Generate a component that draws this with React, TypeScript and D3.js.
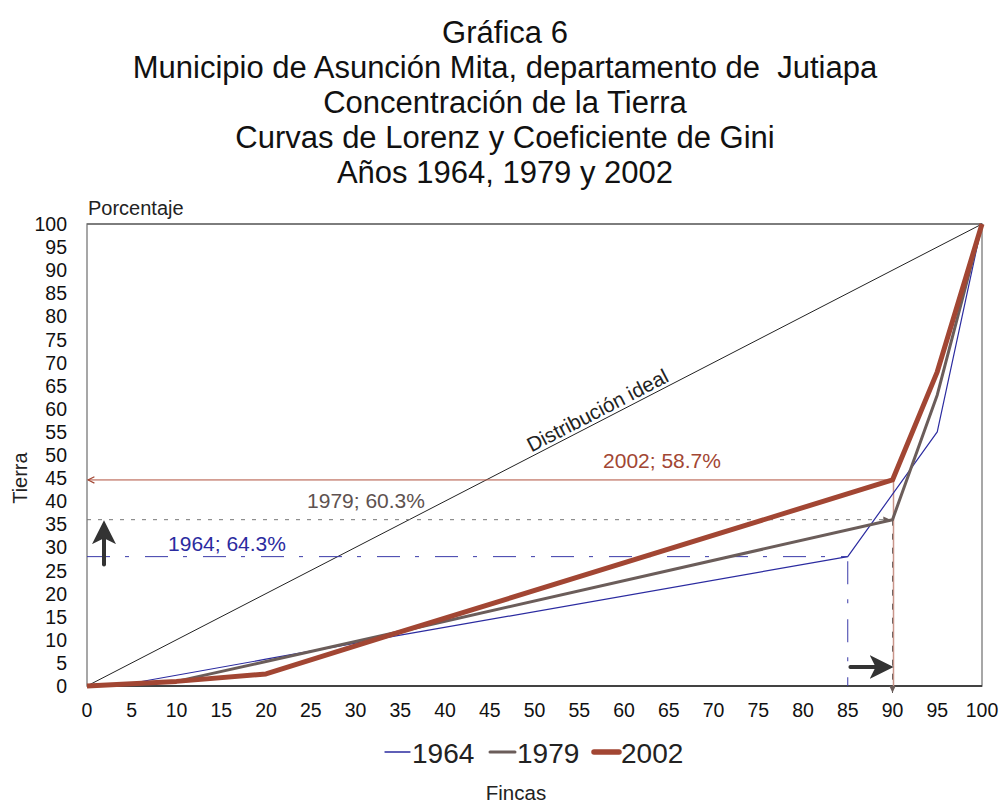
import React from "react";
import * as d3 from "d3";

const titleLines = [
  "Gráfica 6",
  "Municipio de Asunción Mita, departamento de  Jutiapa",
  "Concentración de la Tierra",
  "Curvas de Lorenz y Coeficiente de Gini",
  "Años 1964, 1979 y 2002",
];

const fincas1964 = [0, 5, 20, 35, 85, 95, 100];
const tierra1964 = [0, 0.6, 5.8, 11, 28, 55, 100];
const fincas1979 = [0, 10, 20, 35, 90, 95, 100];
const tierra1979 = [0, 1, 5.3, 11.8, 36, 63, 100];
const fincas2002 = [0, 10, 20, 35, 90, 95, 100];
const tierra2002 = [0, 1, 2.6, 11.7, 44.6, 68, 100];

const xTicks = d3.range(0, 101, 5);
const yTicks = d3.range(0, 101, 5);

const seriesNames = ["1964", "1979", "2002"];
const seriesColors = ["#2b2ba0", "#6b5d5a", "#a24633"];
const seriesWidths = [1.2, 3, 5];
const legendWidths = [1.3, 3, 5.5];

const FONT = "'Liberation Sans', Arial, Helvetica, sans-serif";

export default function App() {
  const W = 1002, H = 804;
  const x = d3.scaleLinear().domain([0, 100]).range([87, 982]);
  const y = d3.scaleLinear().domain([0, 100]).range([686, 224]);
  const line = d3.line<[number, number]>().x(d => x(d[0])).y(d => y(d[1]));

  const series = [
    fincas1964.map((f, i) => [f, tierra1964[i]] as [number, number]),
    fincas1979.map((f, i) => [f, tierra1979[i]] as [number, number]),
    fincas2002.map((f, i) => [f, tierra2002[i]] as [number, number]),
  ];

  const ang = (Math.atan2(y(100) - y(0), x(100) - x(0)) * 180) / Math.PI;
  const idealLabelPos = 57.4;

  return (
    <svg width={W} height={H} style={{ position: "absolute", left: 0, top: 0, background: "#fff" }} fontFamily={FONT}>
      <defs>
        <marker id="arrRed" viewBox="0 0 10 10" refX="9" refY="5" markerWidth="8" markerHeight="8" orient="auto-start-reverse" markerUnits="userSpaceOnUse">
          <path d="M1,1 L9,5 L1,9" fill="none" stroke="#a24633" strokeWidth="1.5" />
        </marker>
        <marker id="arrGray" viewBox="0 0 10 10" refX="9" refY="5" markerWidth="8" markerHeight="8" orient="auto" markerUnits="userSpaceOnUse">
          <path d="M0,1 L9,5 L0,9 Z" fill="#6b5d5a" />
        </marker>
        <marker id="arrBig" viewBox="0 0 10 10" refX="5" refY="5" markerWidth="24" markerHeight="24" orient="auto" markerUnits="userSpaceOnUse">
          <path d="M0,0 L10,5 L0,10 L2.5,5 Z" fill="#333" />
        </marker>
      </defs>
      <rect width={W} height={H} fill="#fff" />
      {titleLines.map((t, i) => (
        <text key={i} x={505} y={43 + i * 35} textAnchor="middle" fontSize={31} fill="#111" style={{ whiteSpace: "pre" }}>{t}</text>
      ))}
      <text x={88} y={215} fontSize={20} fill="#222">Porcentaje</text>

      {/* frame */}
      <rect x={x(0)} y={y(100)} width={x(100) - x(0)} height={y(0) - y(100)} fill="none" stroke="#8a8a8a" strokeWidth={1.5} />
      <line x1={x(0)} x2={x(100)} y1={y(100)} y2={y(100)} stroke="#555" strokeWidth={1.2} />
      <line x1={x(0)} x2={x(100)} y1={y(0)} y2={y(0)} stroke="#222" strokeWidth={1.5} />

      {/* tick labels */}
      {yTicks.map(t => (
        <text key={t} x={67} y={y(t) + 7} textAnchor="end" fontSize={19.5} fill="#111">{t}</text>
      ))}
      {xTicks.map(t => (
        <text key={t} x={x(t)} y={717} textAnchor="middle" fontSize={19.5} fill="#111">{t}</text>
      ))}
      <text transform={`translate(27,${y(45)}) rotate(-90)`} textAnchor="middle" fontSize={20} fill="#222">Tierra</text>
      <text x={516} y={800} textAnchor="middle" fontSize={20.5} fill="#222">Fincas</text>

      {/* ideal line */}
      <line x1={x(0)} y1={y(0)} x2={x(100)} y2={y(100)} stroke="#222" strokeWidth={1} />
      <text transform={`translate(${x(idealLabelPos)},${y(idealLabelPos) - 4}) rotate(${ang})`} textAnchor="middle" fontSize={20.5} fill="#222">Distribución ideal</text>

      {/* 1964 guides */}
      <line x1={x(0)} x2={x(85)} y1={y(28)} y2={y(28)} stroke="#3a3aa8" strokeWidth={1} strokeDasharray="23,15,4,16" />
      <line x1={x(85)} x2={x(85)} y1={y(27)} y2={y(0)} stroke="#3a3aa8" strokeWidth={1} strokeDasharray="23,15,4,16" />
      <text x={227} y={551} textAnchor="middle" fontSize={21} fill="#2b2ba0">1964; 64.3%</text>

      {/* 1979 guides */}
      <line x1={x(0)} x2={x(90) - 2} y1={y(36)} y2={y(36)} stroke="#777" strokeWidth={1} strokeDasharray="4,7" markerEnd="url(#arrGray)" />
      <line x1={x(90)} x2={x(90)} y1={y(36)} y2={y(0) + 7} stroke="#555" strokeWidth={1} strokeDasharray="6,8" markerEnd="url(#arrGray)" />
      <text x={366} y={508} textAnchor="middle" fontSize={21} fill="#5e5250">1979; 60.3%</text>

      {/* 2002 guides */}
      <line x1={x(0) + 1} x2={x(90)} y1={y(44.6)} y2={y(44.6)} stroke="#b0503e" strokeWidth={1} markerStart="url(#arrRed)" />
      <line x1={x(90) + 1} x2={x(90) + 1} y1={y(44.6)} y2={y(0)} stroke="#c9958a" strokeWidth={1.5} />
      <text x={662} y={468} textAnchor="middle" fontSize={21} fill="#a24633">2002; 58.7%</text>

      {/* big arrows */}
      <line x1={104} x2={104} y1={y(26.3)} y2={y(33.3)} stroke="#333" strokeWidth={4} strokeLinecap="round" markerEnd="url(#arrBig)" />
      <line x1={x(85.3)} x2={x(89.9) - 10} y1={667} y2={667} stroke="#333" strokeWidth={4} strokeLinecap="round" markerEnd="url(#arrBig)" />

      {/* series */}
      {series.map((s, i) => (
        <path key={i} d={line(s) || ""} fill="none" stroke={seriesColors[i]} strokeWidth={seriesWidths[i]} strokeLinejoin="round" />
      ))}

      {/* legend */}
      {seriesNames.map((n, i) => {
        const lx = [385, 490, 594][i];
        return (
          <g key={n}>
            <line x1={lx} x2={lx + 25} y1={752} y2={752} stroke={seriesColors[i]} strokeWidth={legendWidths[i]} strokeLinecap="round" />
            <text x={lx + 27} y={763} fontSize={28} fill="#222">{n}</text>
          </g>
        );
      })}
    </svg>
  );
}
